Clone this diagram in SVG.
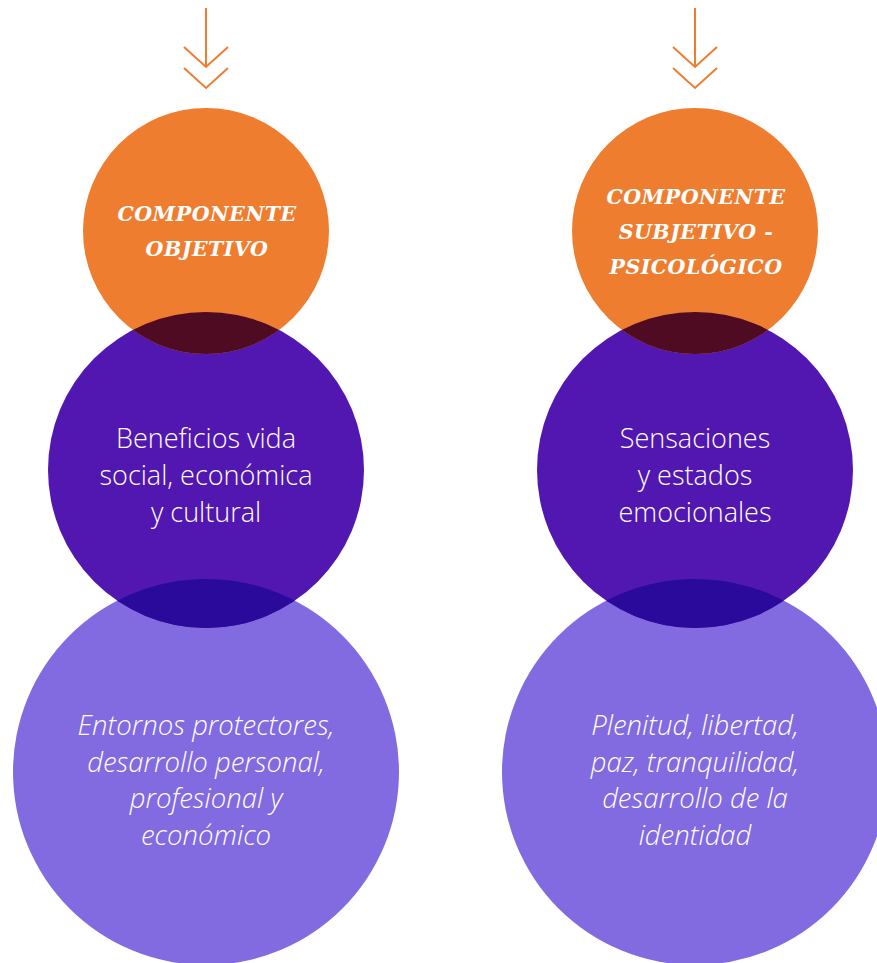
<svg xmlns="http://www.w3.org/2000/svg" width="877" height="963" viewBox="0 0 877 963">
<defs>
<style>
.arrow{fill:none;stroke:#EE7D30;stroke-width:2}
.or{fill:#EE7D30}
.pu{fill:#5117B0}
.la{fill:#826AE0}
.ov1{fill:#4F0B21}
.ov2{fill:#2A0A9A}
.title{font-family:"DejaVu Serif","Liberation Serif",serif;font-weight:bold;font-style:italic;font-size:20.5px;fill:#fff;text-anchor:middle;letter-spacing:0.5px}
.body{font-family:"Open Sans","Noto Sans",sans-serif;font-weight:300;font-size:27px;fill:#fff;text-anchor:middle}
.ital{font-family:"Open Sans","Noto Sans",sans-serif;font-weight:300;font-style:italic;font-size:27.5px;fill:#fff;text-anchor:middle}
</style>
<clipPath id="cpOL"><circle cx="206" cy="231" r="123"/></clipPath>
<clipPath id="cpPL"><circle cx="206" cy="470" r="158"/></clipPath>
<clipPath id="cpOR"><circle cx="695" cy="231" r="123"/></clipPath>
<clipPath id="cpPR"><circle cx="695" cy="470" r="158"/></clipPath>
</defs>
<rect width="877" height="963" fill="#fff"/>
<g id="connectors">
<g id="arrow-left"><path class="arrow" d="M206 8V67M184 47L206 67L228 47M184 68L206 88L228 68"/></g>
<g id="arrow-right"><path class="arrow" d="M695 8V67M673 47L695 67L717 47M673 68L695 88L717 68"/></g>
</g>
<g id="left-bottom"><circle class="la" cx="206" cy="772" r="193"/></g>
<g id="left-middle"><circle class="pu" cx="206" cy="470" r="158"/>
<circle class="ov2" cx="206" cy="772" r="193" clip-path="url(#cpPL)"/></g>
<g id="left-top"><circle class="or" cx="206" cy="231" r="123"/>
<circle class="ov1" cx="206" cy="470" r="158" clip-path="url(#cpOL)"/></g>
<g id="right-bottom"><circle class="la" cx="695" cy="772" r="193"/></g>
<g id="right-middle"><circle class="pu" cx="695" cy="470" r="158"/>
<circle class="ov2" cx="695" cy="772" r="193" clip-path="url(#cpPR)"/></g>
<g id="right-top"><circle class="or" cx="695" cy="231" r="123"/>
<circle class="ov1" cx="695" cy="470" r="158" clip-path="url(#cpOR)"/></g>
<g id="labels">
<text class="title" x="207" y="221">COMPONENTE</text>
<text class="title" x="207" y="256">OBJETIVO</text>
<text class="title" x="696" y="204">COMPONENTE</text>
<text class="title" x="696" y="239">SUBJETIVO -</text>
<text class="title" x="696" y="274">PSICOLÓGICO</text>
<text class="body" x="206" y="448">Beneficios vida</text>
<text class="body" x="206" y="485">social, económica</text>
<text class="body" x="206" y="522">y cultural</text>
<text class="body" x="695" y="448">Sensaciones</text>
<text class="body" x="695" y="485">y estados</text>
<text class="body" x="695" y="522">emocionales</text>
<text class="ital" x="206" y="735">Entornos protectores,</text>
<text class="ital" x="206" y="772">desarrollo personal,</text>
<text class="ital" x="206" y="808">profesional y</text>
<text class="ital" x="206" y="845">económico</text>
<text class="ital" x="695" y="735">Plenitud, libertad,</text>
<text class="ital" x="695" y="772">paz, tranquilidad,</text>
<text class="ital" x="695" y="808">desarrollo de la</text>
<text class="ital" x="695" y="845">identidad</text>
</g>
</svg>
